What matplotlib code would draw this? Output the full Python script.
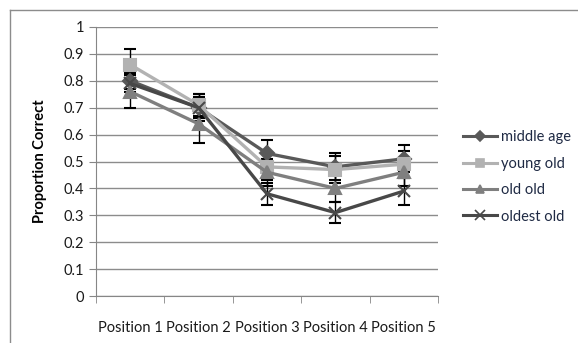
import matplotlib.pyplot as plt
from matplotlib.lines import Line2D

positions = ['Position 1', 'Position 2', 'Position 3', 'Position 4', 'Position 5']

middle_age = [0.80, 0.70, 0.53, 0.48, 0.51]
young_old = [0.86, 0.71, 0.48, 0.47, 0.49]
old_old = [0.76, 0.64, 0.46, 0.40, 0.46]
oldest_old = [0.79, 0.70, 0.38, 0.31, 0.39]

middle_age_err = [0.03, 0.04, 0.05, 0.05, 0.05]
young_old_err = [0.06, 0.04, 0.05, 0.05, 0.05]
old_old_err = [0.06, 0.07, 0.05, 0.05, 0.05]
oldest_old_err = [0.03, 0.05, 0.04, 0.04, 0.05]

plt.rcParams['font.family'] = ['Lato', 'DejaVu Sans']

fig = plt.figure(figsize=(5.78, 3.43), dpi=100)
ax = fig.add_axes([96 / 578, 1 - 296 / 343, 342 / 578, 269 / 343])

x = list(range(len(positions)))
series = [
    ('middle age', middle_age, middle_age_err, '#595959', 'D', 7),
    ('young old', young_old, young_old_err, '#b2b2b2', 's', 8),
    ('old old', old_old, old_old_err, '#7f7f7f', '^', 8),
    ('oldest old', oldest_old, oldest_old_err, '#484848', 'x', 9),
]

handles = []
for name, vals, err, col, mk, ms in series:
    ax.errorbar(x, vals, yerr=err, color=col, lw=2.4, marker=mk, ms=ms,
                mew=1.5, ecolor='black', elinewidth=1, capsize=4, capthick=1,
                zorder=3)
    handles.append(Line2D([], [], color=col, lw=2.2, marker=mk, ms=ms - 2,
                          mew=1.2, label=name))

ax.set_xlim(-0.5, 4.5)
ax.set_ylim(0, 1)
ax.set_yticks([i / 10 for i in range(11)])
ax.set_yticklabels(['0'] + ['0.%d' % i for i in range(1, 10)] + ['1'])
ax.set_xticks(x)
ax.set_xticklabels(positions)
ax.set_xticks([i - 0.5 for i in range(6)], minor=True)
ax.tick_params(axis='x', which='major', length=0, pad=18, labelsize=10.5, colors='#1a1a1a')
ax.tick_params(axis='x', which='minor', length=5, color='#868686')
ax.tick_params(axis='y', length=5, color='#868686', labelsize=10.5, labelcolor='#1a1a1a')
ax.grid(axis='y', color='#8c8c8c', lw=1)
ax.set_axisbelow(True)
for side in ['top', 'right']:
    ax.spines[side].set_visible(False)
for side in ['left', 'bottom']:
    ax.spines[side].set_color('#868686')
ax.set_ylabel('Proportion Correct', fontsize=10.5, fontweight='bold', labelpad=12)

fig.legend(handles=handles, loc='center left', bbox_to_anchor=(450 / 578, 1 - 177 / 343),
           frameon=False, fontsize=10.5, handlelength=2.3, handletextpad=0.3,
           labelspacing=0.85, labelcolor='#1f2a44')

# outer chart border
fig.add_artist(Line2D([10 / 578, 1], [1 - 10 / 343, 1 - 10 / 343], color='#8c8c8c', lw=1))
fig.add_artist(Line2D([10 / 578, 10 / 578], [0, 1 - 10 / 343], color='#8c8c8c', lw=1))

fig.savefig('out.png', dpi=100)
